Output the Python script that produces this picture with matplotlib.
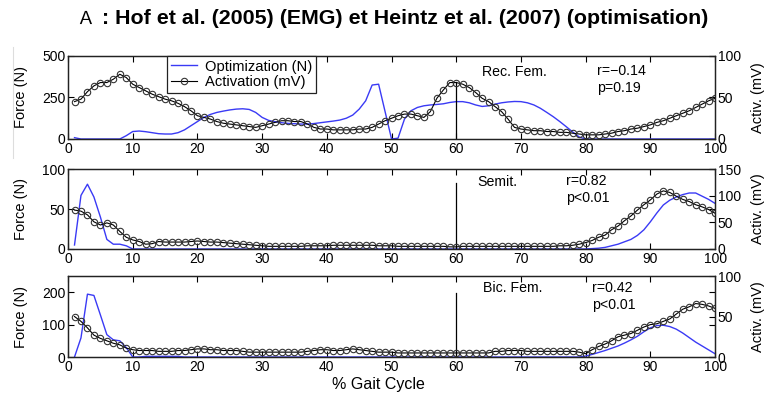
import numpy as np
import matplotlib.pyplot as plt

plt.rcParams['font.family'] = ['Liberation Sans', 'DejaVu Sans']

# % gait cycle samples
cycle = np.arange(1, 101)

# Rec. Fem.
recfem_force = [
    8, 0, 0, 0, 0, 0, 0, 0, 20, 45,
    48, 44, 38, 32, 30, 30, 38, 55, 80, 105,
    130, 148, 160, 168, 175, 180, 182, 178, 160, 130,
    112, 104, 98, 94, 92, 90, 90, 93, 98, 103,
    108, 114, 125, 144, 180, 230, 325, 330, 165, 0,
    5, 120, 170, 190, 200, 205, 208, 212, 220, 225,
    225, 218, 205, 196, 200, 210, 218, 223, 226, 225,
    218, 205, 185, 160, 134, 105, 74, 42, 12, 0,
    0, 0, 0, 0, 0, 0, 0, 0, 0, 0,
    0, 0, 0, 0, 0, 0, 0, 0, 0, 0,
]
recfem_act = [
    45, 48, 57, 64, 68, 68, 72, 78, 74, 66,
    62, 58, 54, 51, 48, 46, 43, 39, 34, 28,
    26, 24, 21, 19, 18, 17, 16, 15, 14, 16,
    18, 20, 22, 22, 21, 21, 18, 14, 12, 12,
    11, 11, 11, 11, 12, 12, 14, 18, 22, 25,
    28, 30, 30, 28, 26, 33, 49, 59, 68, 68,
    66, 62, 56, 49, 45, 39, 33, 24, 14, 12,
    11, 10, 10, 9, 9, 8, 8, 7, 6, 5,
    5, 5, 6, 7, 9, 10, 12, 13, 15, 17,
    20, 22, 25, 28, 31, 34, 38, 42, 46, 49,
]

# Semit.
semit_force = [
    5, 67, 81, 65, 40, 12, 6, 6, 4, 0,
    0, 0, 0, 0, 0, 0, 0, 0, 0, 0,
    0, 0, 0, 0, 0, 0, 0, 0, 0, 0,
    0, 0, 0, 0, 0, 0, 0, 0, 0, 0,
    0, 0, 0, 0, 0, 0, 0, 0, 0, 0,
    0, 0, 0, 0, 0, 0, 0, 0, 0, 0,
    0, 0, 0, 0, 0, 0, 0, 0, 0, 0,
    0, 0, 0, 0, 0, 0, 0, 0, 0, 0,
    0.5, 1, 2, 4, 6, 9, 12, 17, 24, 34,
    45, 55, 61, 65, 68, 70, 70, 66, 62, 57,
]
semit_act = [
    73, 71, 64, 51, 45, 49, 45, 33, 22, 17,
    14, 9, 10, 14, 13, 13, 13, 13, 14, 15,
    14, 13, 13, 12, 11, 10, 9, 8, 7, 6,
    5, 5, 5, 5, 5, 5, 6, 6, 6, 6,
    7, 7, 7, 7, 7, 7, 7, 6, 6, 6,
    5, 5, 5, 5, 5, 5, 5, 5, 4, 4,
    5, 5, 5, 5, 5, 5, 5, 5, 5, 5,
    5, 5, 5, 5, 5, 6, 6, 7, 9, 12,
    16, 22, 26, 36, 43, 53, 62, 73, 83, 92,
    103, 109, 106, 99, 93, 89, 83, 79, 74, 67,
]

# Bic. Fem.
bicfem_force = [
    0, 59, 194, 190, 130, 69, 53, 50, 29, 0,
    0, 2, 2, 2, 2, 2, 2, 0, 0, 0,
    0, 0, 0, 0, 0, 0, 0, 0, 0, 0,
    0, 0, 0, 0, 0, 0, 0, 0, 0, 0,
    0, 0, 0, 0, 0, 0, 0, 0, 0, 0,
    0, 0, 0, 0, 0, 0, 0, 0, 0, 0,
    0, 0, 0, 0, 0, 0, 0, 0, 0, 0,
    0, 0, 0, 0, 0, 0, 0, 0, 0, 3,
    8, 14, 20, 27, 34, 43, 53, 64, 78, 90,
    97, 98, 94, 86, 74, 60, 46, 34, 22, 10,
]
bicfem_act = [
    50, 44, 36, 27, 23, 20, 17, 15, 11, 9,
    8, 8, 8, 7, 7, 7, 8, 8, 9, 10,
    10, 9, 9, 8, 8, 8, 7, 6, 6, 6,
    6, 6, 6, 6, 6, 6, 7, 8, 9, 9,
    8, 8, 9, 10, 9, 8, 7, 6, 6, 6,
    5, 5, 5, 5, 5, 5, 5, 5, 5, 5,
    5, 5, 5, 5, 5, 7, 7, 8, 8, 8,
    7, 7, 7, 7, 7, 7, 7, 7, 6, 4,
    9, 13, 16, 20, 25, 27, 29, 33, 37, 40,
    41, 44, 47, 53, 59, 62, 66, 65, 63, 60,
]

muscles = ["Rec. Fem.", "Semit.", "Bic. Fem."]
stats = ["r=\u22120.14\np=0.19", "r=0.82\np<0.01", "r=0.42\np<0.01"]
forces = [recfem_force, semit_force, bicfem_force]
activations = [recfem_act, semit_act, bicfem_act]
force_lims = [500, 100, 250]
force_ticks = [[0, 250, 500], [0, 50, 100], [0, 100, 200]]
act_lims = [100, 150, 100]
act_ticks = [[0, 50, 100], [0, 50, 100, 150], [0, 50, 100]]
vline_tops = [343, 82, 197]

fig = plt.figure(figsize=(7.67, 4.05), dpi=100)

# panel layout in figure fractions
bottoms = [0.6568, 0.3852, 0.1185]
heights = [0.205, 0.1975, 0.2]
name_pos = [(0.64, 0.81), (0.632, 0.84), (0.642, 0.85)]
stat_pos = [(0.818, 0.72), (0.77, 0.745), (0.81, 0.745)]

blue = "#3a3af5"

for i in range(3):
    ax = fig.add_axes([0.0887, bottoms[i], 0.8436, heights[i]])
    ax2 = ax.twinx()

    l1, = ax.plot(cycle, forces[i], color=blue, lw=1.0, label="Optimization (N)")
    ax.plot([60, 60], [0, vline_tops[i]], color="black", lw=0.9)
    l2, = ax2.plot(cycle, activations[i], color="black", lw=0.8, marker="o",
                   ms=4.6, mfc="none", mec="#333333", mew=0.8,
                   label="Activation (mV)")

    ax.set_xlim(0, 100)
    ax.set_ylim(0, force_lims[i])
    ax.set_yticks(force_ticks[i])
    ax.set_xticks(np.arange(0, 101, 10))
    ax2.set_ylim(0, act_lims[i])
    ax2.set_yticks(act_ticks[i])

    ax.tick_params(direction="in", top=True, right=True, length=4,
                   labelsize=10, pad=2, width=0.8)
    ax2.tick_params(direction="in", length=4, labelsize=10, pad=2, width=0.8)
    for sp in list(ax.spines.values()) + list(ax2.spines.values()):
        sp.set_linewidth(0.9)
        sp.set_color("#222222")

    ax.set_ylabel("Force (N)", fontsize=10.5)
    ax.yaxis.set_label_coords(-0.062, 0.5)
    ax2.set_ylabel("Activ. (mV)", fontsize=10.5)
    ax2.yaxis.set_label_coords(1.055, 0.5)

    ax.text(name_pos[i][0], name_pos[i][1], muscles[i], transform=ax.transAxes,
            fontsize=10.2, va="center", ha="left")
    ax.text(stat_pos[i][0], stat_pos[i][1], stats[i], transform=ax.transAxes,
            fontsize=10.2, va="center", ha="left", linespacing=1.25)

    if i == 0:
        leg = ax2.legend(handles=[l1, l2], loc="upper left",
                         bbox_to_anchor=(0.153, 1.0), borderaxespad=0,
                         fontsize=10.6, fancybox=False, framealpha=1,
                         edgecolor="#222222", handlelength=1.8,
                         handletextpad=0.5, labelspacing=0.1, borderpad=0.25)
        leg.get_frame().set_linewidth(0.9)

fig.text(378 / 767, 1 - 385 / 405, "% Gait Cycle", ha="center", va="center",
         fontsize=11.5)

# title
fig.text(85.5 / 767, 1 - 19 / 405, "\uff21", ha="center", va="center",
         fontsize=13, family=["Noto Sans CJK JP", "DejaVu Sans"])
fig.text(102 / 767, 1 - 19 / 405,
         ": Hof et al. (2005) (EMG) et Heintz et al. (2007) (optimisation)",
         ha="left", va="center", fontsize=15.4, fontweight="bold")

# faint frame edge of the original screenshot
fig.add_artist(plt.Line2D([13 / 767, 13 / 767], [1 - 158 / 405, 1 - 47 / 405],
                          color="#dddddd", lw=0.8))

fig.savefig("out.png", dpi=100)
